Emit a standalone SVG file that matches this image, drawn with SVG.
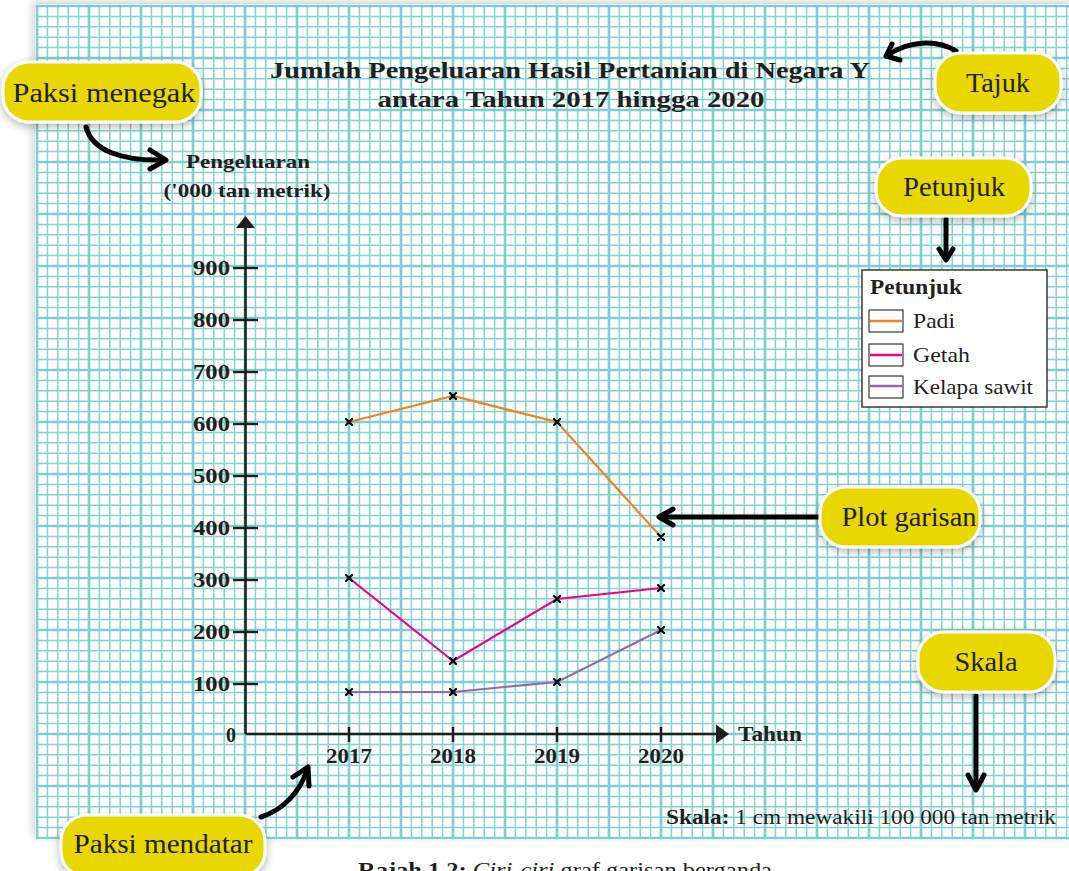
<svg xmlns="http://www.w3.org/2000/svg" width="1069" height="871" viewBox="0 0 1069 871">
<style>
.t{font-family:"Liberation Serif","DejaVu Serif",serif;fill:#231f20}
.b{font-weight:bold}
.ax{stroke:#231f20;stroke-width:2.6;fill:none}
.tk{stroke:#231f20;stroke-width:2.4}
.num{font-family:"Liberation Serif",serif;font-weight:bold;font-size:20px;fill:#231f20}
.pill{fill:#e8d800;stroke:#fff;stroke-width:3;filter:url(#sh)}
.pt{font-family:"Liberation Serif",serif;font-size:27px;fill:#231f20;text-anchor:middle}
.arr{stroke:#000;stroke-width:5;fill:none;stroke-linecap:round;stroke-linejoin:round}
.mk{stroke:#000;stroke-width:2.2;stroke-linecap:round}
.lg{font-family:"Liberation Serif",serif;font-size:21px;fill:#231f20}
</style>
<defs>
<pattern id="grid" patternUnits="userSpaceOnUse" x="11" y="-20" width="52" height="52">
<g stroke="#84d3d5" stroke-width="1.5">
<line x1="5.2" y1="0" x2="5.2" y2="52"/><line x1="15.6" y1="0" x2="15.6" y2="52"/><line x1="36.4" y1="0" x2="36.4" y2="52"/><line x1="46.8" y1="0" x2="46.8" y2="52"/>
<line y1="5.2" x1="0" y2="5.2" x2="52"/><line y1="15.6" x1="0" y2="15.6" x2="52"/><line y1="36.4" x1="0" y2="36.4" x2="52"/><line y1="46.8" x1="0" y2="46.8" x2="52"/>
</g>
<g stroke="#7ccfd2" stroke-width="2.7">
<line x1="26" y1="0" x2="26" y2="52"/><line y1="26" x1="0" y2="26" x2="52"/>
</g>
</pattern>
<filter id="sh" x="-20%" y="-30%" width="140%" height="170%">
<feDropShadow dx="0" dy="3" stdDeviation="4" flood-color="#000" flood-opacity="0.3"/>
</filter>
<filter id="gsh" x="-5%" y="-5%" width="110%" height="110%">
<feDropShadow dx="-3" dy="-3" stdDeviation="4" flood-color="#000" flood-opacity="0.18"/>
</filter>
</defs>
<rect width="1069" height="871" fill="#fff"/>
<g id="grid-paper">
<rect x="35.6" y="4.6" width="1040" height="834.8" fill="#fff" filter="url(#gsh)"/>
<rect x="35.6" y="4.6" width="1040" height="834.8" fill="url(#grid)"/>
</g>
<g id="title">
<text class="t b" x="570" y="78" font-size="24" text-anchor="middle" textLength="600" lengthAdjust="spacingAndGlyphs">Jumlah Pengeluaran Hasil Pertanian di Negara Y</text>
<text class="t b" x="571" y="107" font-size="24" text-anchor="middle" textLength="387" lengthAdjust="spacingAndGlyphs">antara Tahun 2017 hingga 2020</text>
</g>
<g id="axes">
<text class="t b" x="248" y="168" font-size="19" text-anchor="middle" textLength="124" lengthAdjust="spacingAndGlyphs">Pengeluaran</text>
<text class="t b" x="247" y="197" font-size="19" text-anchor="middle" textLength="167" lengthAdjust="spacingAndGlyphs">('000 tan metrik)</text>
<path class="ax" d="M245.5,734 V226 M245.5,734 H718"/>
<path d="M236,228 L245.5,216 L255,228 Z" fill="#231f20"/>
<path d="M716,724.5 L729,734 L716,743.5 Z" fill="#231f20"/>
<g class="tk">
<line x1="233" x2="258" y1="268" y2="268"/><line x1="233" x2="258" y1="320" y2="320"/><line x1="233" x2="258" y1="372" y2="372"/>
<line x1="233" x2="258" y1="424" y2="424"/><line x1="233" x2="258" y1="476" y2="476"/><line x1="233" x2="258" y1="528" y2="528"/>
<line x1="233" x2="258" y1="580" y2="580"/><line x1="233" x2="258" y1="632" y2="632"/><line x1="233" x2="258" y1="684" y2="684"/>
<line x1="349" x2="349" y1="727" y2="742"/><line x1="453" x2="453" y1="727" y2="742"/><line x1="557" x2="557" y1="727" y2="742"/><line x1="661" x2="661" y1="727" y2="742"/>
</g>
<g class="num" text-anchor="end">
<text x="230" y="275" textLength="37" lengthAdjust="spacingAndGlyphs">900</text><text x="230" y="327" textLength="37" lengthAdjust="spacingAndGlyphs">800</text>
<text x="230" y="379" textLength="37" lengthAdjust="spacingAndGlyphs">700</text><text x="230" y="431" textLength="37" lengthAdjust="spacingAndGlyphs">600</text>
<text x="230" y="483" textLength="37" lengthAdjust="spacingAndGlyphs">500</text><text x="230" y="535" textLength="37" lengthAdjust="spacingAndGlyphs">400</text>
<text x="230" y="587" textLength="37" lengthAdjust="spacingAndGlyphs">300</text><text x="230" y="639" textLength="37" lengthAdjust="spacingAndGlyphs">200</text>
<text x="230" y="691" textLength="37" lengthAdjust="spacingAndGlyphs">100</text><text x="236" y="742">0</text>
</g>
<g class="num" text-anchor="middle">
<text x="349" y="763" textLength="46" lengthAdjust="spacingAndGlyphs">2017</text><text x="453" y="763" textLength="46" lengthAdjust="spacingAndGlyphs">2018</text>
<text x="557" y="763" textLength="46" lengthAdjust="spacingAndGlyphs">2019</text><text x="661" y="763" textLength="46" lengthAdjust="spacingAndGlyphs">2020</text>
</g>
<text class="num" x="738" y="741" textLength="64" lengthAdjust="spacingAndGlyphs">Tahun</text>
</g>
<g id="series" fill="none" stroke-width="2.2">
<polyline stroke="#f58220" points="349,422 453,396 557,422 661,537"/>
<polyline stroke="#ec008c" points="349,578 453,661 557,599 661,588"/>
<polyline stroke="#9567ad" points="349,692 453,692 557,682 661,630"/>
</g>
<g id="markers" class="mk">
<path d="M346,419 l6,6 m0,-6 l-6,6 M450,393 l6,6 m0,-6 l-6,6 M554,419 l6,6 m0,-6 l-6,6 M658,534 l6,6 m0,-6 l-6,6"/>
<path d="M346,575 l6,6 m0,-6 l-6,6 M450,658 l6,6 m0,-6 l-6,6 M554,596 l6,6 m0,-6 l-6,6 M658,585 l6,6 m0,-6 l-6,6"/>
<path d="M346,689 l6,6 m0,-6 l-6,6 M450,689 l6,6 m0,-6 l-6,6 M554,679 l6,6 m0,-6 l-6,6 M658,627 l6,6 m0,-6 l-6,6"/>
</g>
<g id="legend">
<rect x="862" y="270" width="185" height="137" fill="#fff" stroke="#3a3a3a" stroke-width="1.5"/>
<text class="lg b" x="870" y="294" textLength="92" lengthAdjust="spacingAndGlyphs">Petunjuk</text>
<rect x="869" y="310" width="34" height="22" fill="#fff" stroke="#3a3a3a" stroke-width="1.2"/>
<line x1="870" x2="902" y1="321" y2="321" stroke="#f58220" stroke-width="2.5"/>
<text class="lg" x="913" y="328" textLength="42" lengthAdjust="spacingAndGlyphs">Padi</text>
<rect x="869" y="344" width="34" height="22" fill="#fff" stroke="#3a3a3a" stroke-width="1.2"/>
<line x1="870" x2="902" y1="355" y2="355" stroke="#ec008c" stroke-width="2.5"/>
<text class="lg" x="913" y="362" textLength="57" lengthAdjust="spacingAndGlyphs">Getah</text>
<rect x="869" y="376" width="34" height="22" fill="#fff" stroke="#3a3a3a" stroke-width="1.2"/>
<line x1="870" x2="902" y1="386" y2="386" stroke="#9567ad" stroke-width="2.5"/>
<text class="lg" x="913" y="394" textLength="120" lengthAdjust="spacingAndGlyphs">Kelapa sawit</text>
</g>
<g id="scale-note">
<text class="t" x="666" y="824" font-size="20" textLength="390" lengthAdjust="spacingAndGlyphs"><tspan font-weight="bold">Skala:</tspan> 1 cm mewakili 100 000 tan metrik</text>
</g>
<g id="caption">
<text class="t" x="358" y="877" font-size="20" textLength="414" lengthAdjust="spacingAndGlyphs"><tspan font-weight="bold">Rajah 1.2:</tspan> <tspan font-style="italic">Ciri-ciri</tspan> graf garisan berganda</text>
</g>
<g id="connectors">
<path class="arr" d="M86,127 C92,150 120,161 164,160"/>
<path class="arr" d="M150,150 L166,160 L150,169"/>
<path class="arr" d="M956,51 C936,39 908,41 888,55"/>
<path class="arr" d="M892,44 L886,56 L900,60"/>
<path class="arr" d="M946,219 V258"/>
<path class="arr" d="M939,249 L946,260 L953,249"/>
<path class="arr" d="M820,517 H660"/>
<path class="arr" d="M673,509 L659,517 L673,525"/>
<path class="arr" d="M976,696 V788"/>
<path class="arr" d="M968,775 L976,790 L984,775"/>
<path class="arr" d="M261,817 C283,810 300,792 307,770"/>
<path class="arr" d="M293,777 L308,767 L309,786"/>
</g>
<g id="callout-paksi-menegak">
<rect class="pill" x="3" y="62" width="198" height="60" rx="26"/>
<text class="pt" x="104" y="102" textLength="183" lengthAdjust="spacingAndGlyphs">Paksi menegak</text>
</g>
<g id="callout-tajuk">
<rect class="pill" x="935" y="53" width="126" height="60" rx="26"/>
<text class="pt" x="998" y="92" textLength="64" lengthAdjust="spacingAndGlyphs">Tajuk</text>
</g>
<g id="callout-petunjuk">
<rect class="pill" x="876" y="158" width="155" height="58" rx="26"/>
<text class="pt" x="954" y="196" textLength="102" lengthAdjust="spacingAndGlyphs">Petunjuk</text>
</g>
<g id="callout-plot-garisan">
<rect class="pill" x="820" y="487" width="160" height="60" rx="26"/>
<text class="pt" x="909" y="526" textLength="135" lengthAdjust="spacingAndGlyphs">Plot garisan</text>
</g>
<g id="callout-skala">
<rect class="pill" x="918" y="632" width="137" height="60" rx="26"/>
<text class="pt" x="986" y="671" textLength="63" lengthAdjust="spacingAndGlyphs">Skala</text>
</g>
<g id="callout-paksi-mendatar">
<rect class="pill" x="61" y="815" width="204" height="62" rx="26"/>
<text class="pt" x="163" y="853" textLength="179" lengthAdjust="spacingAndGlyphs">Paksi mendatar</text>
</g>
</svg>
